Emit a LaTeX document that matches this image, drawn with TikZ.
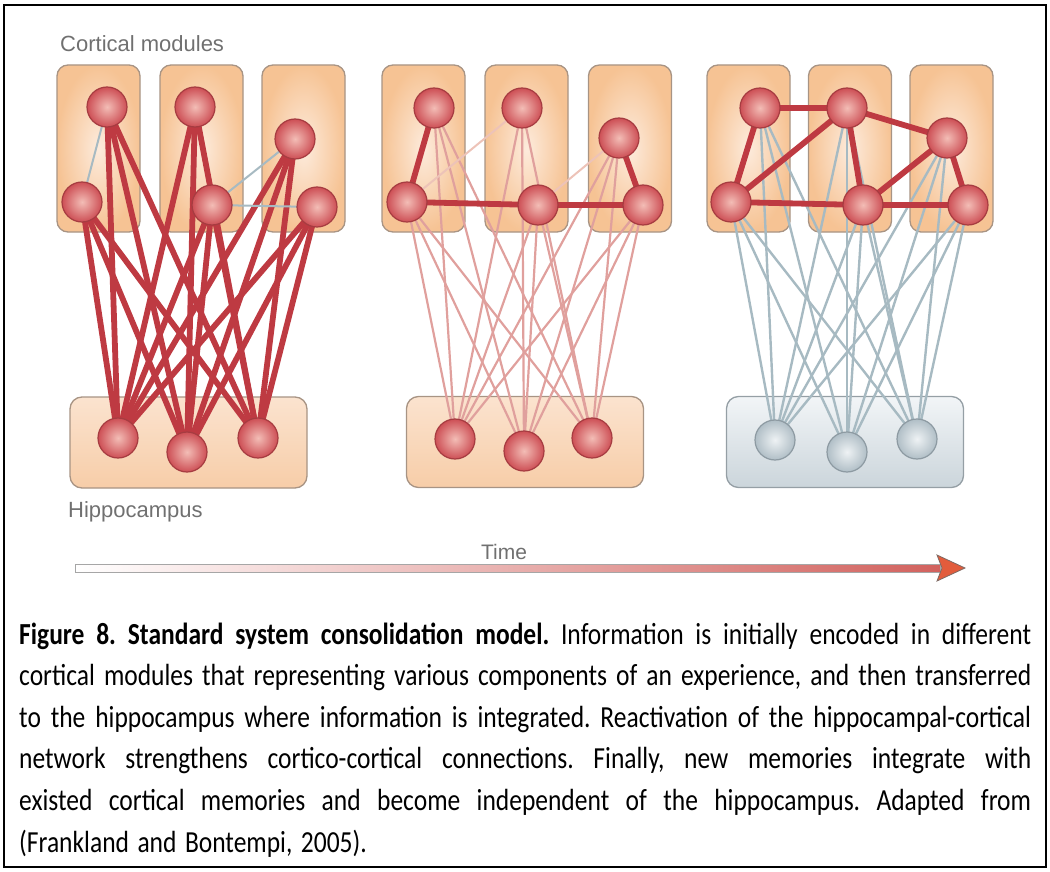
\documentclass[tikz,border=0pt]{standalone}
\usepackage{fontspec}
\setmainfont{Carlito}
\newfontfamily\labfont{Liberation Sans}
\usetikzlibrary{calc}
\definecolor{modout}{HTML}{F6C394}
\definecolor{modin}{HTML}{FDEBDC}
\definecolor{boxline}{HTML}{A89484}
\definecolor{hiptop}{HTML}{FBE3CF}
\definecolor{hipbot}{HTML}{F7CDA8}
\definecolor{ballout}{HTML}{CD4F55}
\definecolor{ballin}{HTML}{F3BDB6}
\definecolor{ballline}{HTML}{A63C41}
\definecolor{gballin}{HTML}{EEF2F4}
\definecolor{gballout}{HTML}{B0BEC6}
\definecolor{gballline}{HTML}{8D9AA2}
\definecolor{hgtop}{HTML}{F2F5F7}
\definecolor{hgbot}{HTML}{CBD5DB}
\definecolor{hgline}{HTML}{959FA5}
\definecolor{thickred}{HTML}{BE3A42}
\definecolor{pinkline}{HTML}{E0A09D}
\definecolor{faintpink}{HTML}{EDC3B8}
\definecolor{grayblue}{HTML}{A7BAC2}
\definecolor{labgray}{HTML}{707070}
\definecolor{shaftred}{HTML}{D2625E}
\definecolor{shaftmid}{HTML}{EDBDB5}
\definecolor{headred}{HTML}{E25C3C}
\definecolor{headline}{HTML}{7E6A64}
\pgfdeclarelayer{boxes}
\pgfdeclarelayer{links}
\pgfsetlayers{boxes,links,main}
\newcommand\jline[1]{\hbox to 1012pt{\spaceskip=0.226em plus 1fil minus 0.08em\relax #1}}
\begin{document}
\begin{tikzpicture}[x=1pt,y=-1pt,
  modbox/.style={rectangle, rounded corners=11pt, draw=boxline, line width=1.3pt,
    inner color=modin, outer color=modout, minimum width=83pt, minimum height=167pt, inner sep=0pt},
  hipbox/.style={rectangle, rounded corners=12pt, draw=boxline, line width=1.3pt,
    top color=hiptop, bottom color=hipbot, minimum width=237pt, minimum height=91pt, inner sep=0pt},
  hipgray/.style={rectangle, rounded corners=12pt, draw=hgline, line width=1.3pt,
    top color=hgtop, bottom color=hgbot, minimum width=237pt, minimum height=91pt, inner sep=0pt},
  rball/.style={circle, minimum size=40pt, inner sep=0pt, draw=ballline, line width=1.2pt,
    inner color=ballin, outer color=ballout},
  gball/.style={circle, minimum size=40pt, inner sep=0pt, draw=gballline, line width=1.2pt,
    inner color=gballin, outer color=gballout},
  thicklink/.style={draw=thickred, line width=5.8pt},
  pinklink/.style={draw=pinkline, line width=2.2pt},
  faintlink/.style={draw=faintpink, line width=2pt},
  graylink/.style={draw=grayblue, line width=2.4pt},
  lab/.style={font=\labfont\fontsize{22}{26}\selectfont, text=labgray, inner sep=0pt}
]
\useasboundingbox (0,0) rectangle (1050,872);
\draw[line width=2.5pt] (4,5) rectangle (1046,867);

% ---------- boxes ----------
\begin{pgfonlayer}{boxes}
\node[modbox] (p1m1) at (98.5,148.5) {};
\node[modbox] (p1m2) at (201.5,148.5) {};
\node[modbox] (p1m3) at (303.5,148.5) {};
\node[modbox] (p2m1) at (423.5,148.5) {};
\node[modbox] (p2m2) at (526.5,148.5) {};
\node[modbox] (p2m3) at (630,148.5) {};
\node[modbox] (p3m1) at (748.5,148.5) {};
\node[modbox] (p3m2) at (850,148.5) {};
\node[modbox] (p3m3) at (951.5,148.5) {};
\node[hipbox] (p1hb) at (188.5,442.5) {};
\node[hipbox] (p2hb) at (525,442) {};
\node[hipgray] (p3hb) at (845,442) {};
\end{pgfonlayer}

% ---------- neurons ----------
\node[rball] (p1a1) at (107,107) {};
\node[rball] (p1a2) at (82,202) {};
\node[rball] (p1b1) at (195,107) {};
\node[rball] (p1b2) at (212,205) {};
\node[rball] (p1c1) at (295,139) {};
\node[rball] (p1c2) at (317,207) {};
\node[rball] (p1h1) at (118,438) {};
\node[rball] (p1h2) at (187,452) {};
\node[rball] (p1h3) at (258,438) {};

\node[rball] (p2a1) at (434,108) {};
\node[rball] (p2a2) at (407,202) {};
\node[rball] (p2b1) at (522,108) {};
\node[rball] (p2b2) at (538,205) {};
\node[rball] (p2c1) at (619,138) {};
\node[rball] (p2c2) at (643,205) {};
\node[rball] (p2h1) at (455,439) {};
\node[rball] (p2h2) at (524,451) {};
\node[rball] (p2h3) at (592,438) {};

\node[rball] (p3a1) at (760,108) {};
\node[rball] (p3a2) at (731,202) {};
\node[rball] (p3b1) at (847,108) {};
\node[rball] (p3b2) at (863,205) {};
\node[rball] (p3c1) at (947,138) {};
\node[rball] (p3c2) at (968,205) {};
\node[gball] (p3h1) at (775,440) {};
\node[gball] (p3h2) at (847,452) {};
\node[gball] (p3h3) at (917,439) {};

% ---------- links ----------
\begin{pgfonlayer}{links}
\foreach \c in {a1,a2,b1,b2,c1,c2}{
  \foreach \h in {h1,h2,h3}{
    \draw[thicklink] (p1\c.center) -- (p1\h.center);
    \draw[pinklink] (p2\c.center) -- (p2\h.center);
    \draw[graylink] (p3\c.center) -- (p3\h.center);
  }
}
% panel 1 cortico-cortical (weak)
\draw[graylink, line width=2pt] (p1a1.center) -- (p1a2.center);
\draw[graylink, line width=2pt] (p1b2.center) -- (p1c1.center);
\draw[graylink, line width=2pt] (p1b2.center) -- (p1c2.center);
% panel 2
\draw[faintlink] (p2a2.center) -- (p2b1.center);
\draw[faintlink] (p2b2.center) -- (p2c1.center);
\draw[thicklink] (p2a1.center) -- (p2a2.center);
\draw[thicklink] (p2a2.center) -- (p2b2.center);
\draw[thicklink] (p2b2.center) -- (p2c2.center);
\draw[thicklink] (p2c1.center) -- (p2c2.center);
% panel 3
\draw[thicklink] (p3a1.center) -- (p3b1.center);
\draw[thicklink] (p3b1.center) -- (p3c1.center);
\draw[thicklink] (p3a1.center) -- (p3a2.center);
\draw[thicklink] (p3a2.center) -- (p3b1.center);
\draw[thicklink] (p3b1.center) -- (p3b2.center);
\draw[thicklink] (p3b2.center) -- (p3c1.center);
\draw[thicklink] (p3c1.center) -- (p3c2.center);
\draw[thicklink] (p3a2.center) -- (p3b2.center);
\draw[thicklink] (p3b2.center) -- (p3c2.center);
\end{pgfonlayer}

% ---------- labels ----------
\node[lab, anchor=base west] (lcort) at (60,52) {Cortical modules};
\node[lab, anchor=base west] (lhip) at (68,517) {Hippocampus};
\node[lab, anchor=base, font=\labfont\fontsize{21}{25}\selectfont] (ltime) at (504,559) {Time};

% ---------- time arrow ----------
\coordinate (ta) at (75,568);
\coordinate (tb) at (940,568);
\shade[left color=white, middle color=shaftmid, right color=shaftred]
  ([yshift=-4pt]ta) rectangle ([yshift=4pt]tb);
\draw[draw=gray!70, line width=0.8pt] ([yshift=-4pt]ta) rectangle ([yshift=4pt]tb);
\filldraw[fill=headred, draw=headline, line width=0.8pt]
  ([xshift=-3pt,yshift=13pt]tb) -- ([xshift=25pt]tb) -- ([xshift=-3pt,yshift=-13pt]tb) -- ([xshift=2pt]tb) -- cycle;

% ---------- caption ----------
\begin{scope}[shift={(19,644)}, yscale=1.2]
\node[transform shape, anchor=base west, inner sep=0pt, text width=1012pt,
      font=\fontsize{25.5}{34.67}\selectfont] (cap) at (0,0) {%
\parindent=0pt\parskip=0pt\frenchspacing
\jline{\textbf{Figure 8. Standard system consolidation model.} Information is initially encoded in different}\par
\jline{cortical modules that representing various components of an experience, and then transferred}\par
\jline{to the hippocampus where information is integrated. Reactivation of the hippocampal-cortical}\par
\jline{network strengthens cortico-cortical connections. Finally, new memories integrate with}\par
\jline{existed cortical memories and become independent of the hippocampus. Adapted from}\par
(Frankland and Bontempi, 2005).};
\end{scope}
\end{tikzpicture}
\end{document}
